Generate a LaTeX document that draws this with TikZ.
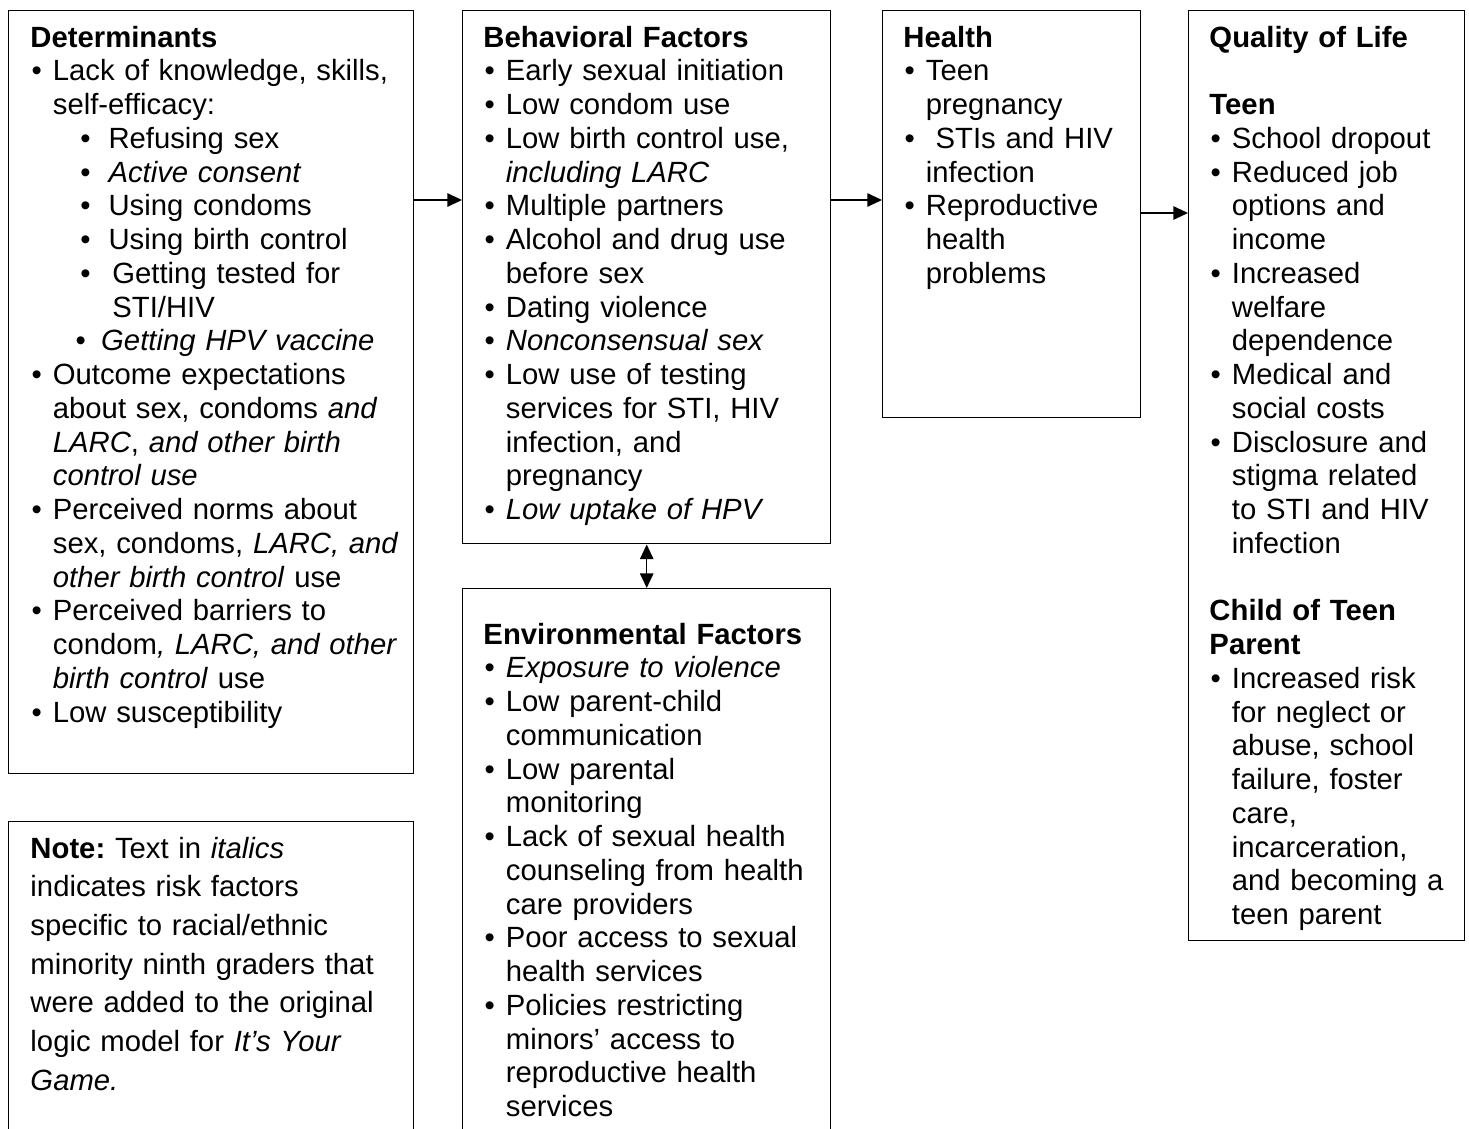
\documentclass[tikz,border=0pt]{standalone}
\usepackage{fontspec}
\setmainfont{Liberation Sans}
\usetikzlibrary{positioning,calc,arrows.meta}
\setlength{\parindent}{0pt}
\frenchspacing

\newcommand{\pxu}{0.41pt}
% bullet item and indented sub item
\newcommand{\itm}[1]{\par\hangindent=9.2pt\hangafter=1\noindent\hbox to 9.2pt{\hspace{0.5pt}\textbullet\hfil}#1\par}
\newcommand{\sitm}[3]{\par\hangindent=#2\hangafter=1\noindent\hbox to #2{\hspace{#1}\textbullet\hfil}#3\par}

\tikzset{
  frame/.style={draw, line width=0.6pt, anchor=north west, inner sep=0pt},
  txt/.style={anchor=base west, inner sep=0pt, align=left,
    font=\fontsize{12pt}{13.84pt}\selectfont},
  arr/.style={-{Triangle[length=6pt,width=5.5pt]}, line width=0.6pt},
  darr/.style={{Triangle[length=6pt,width=5.5pt]}-{Triangle[length=6pt,width=5.5pt]}, line width=0.6pt}
}

\begin{document}
\begin{tikzpicture}[x=\pxu, y=-\pxu]
\useasboundingbox (0,0) rectangle (1469,1128);
\clip (0,0) rectangle (1469,1128);

% boxes
\node[frame, minimum width=405*\pxu, minimum height=763*\pxu] (det) at (8,10) {};
\node[frame, minimum width=368*\pxu, minimum height=533*\pxu] (beh) at (462,10) {};
\node[frame, minimum width=258*\pxu, minimum height=407*\pxu] (hlth) at (882,10) {};
\node[frame, minimum width=276*\pxu, minimum height=930*\pxu] (qol) at (1188,10) {};
\node[frame, minimum width=368*\pxu, minimum height=560*\pxu] (env) at (462,588) {};
\node[frame, minimum width=405*\pxu, minimum height=330*\pxu] (note) at (8,821) {};

% texts
\node[txt, text width=154pt] (detText) at ($(det.north west)+(22,37)$) {%
\textbf{Determinants}
\itm{Lack of knowledge, skills,\newline self-efficacy:}
\sitm{20.5pt}{32pt}{Refusing sex}
\sitm{20.5pt}{32pt}{\textit{Active consent}}
\sitm{20.5pt}{32pt}{Using condoms}
\sitm{20.5pt}{32pt}{Using birth control}
\sitm{20.5pt}{33.6pt}{Getting tested for\newline STI/HIV}
\sitm{18.5pt}{29pt}{\textit{Getting HPV vaccine}}
\itm{Outcome expectations\newline about sex, condoms \textit{and}\newline \textit{LARC}, \textit{and other birth}\newline \textit{control use}}
\itm{Perceived norms about\newline sex, condoms, \textit{LARC, and}\newline \textit{other birth control} use}
\itm{Perceived barriers to\newline condom\textit{, LARC, and other}\newline \textit{birth control} use}
\itm{Low susceptibility}};

\node[txt, text width=138pt] (behText) at ($(beh.north west)+(21,37)$) {%
\textbf{Behavioral Factors}
\itm{Early sexual initiation}
\itm{Low condom use}
\itm{Low birth control use,\newline \textit{including LARC}}
\itm{Multiple partners}
\itm{Alcohol and drug use\newline before sex}
\itm{Dating violence}
\itm{\textit{Nonconsensual sex}}
\itm{Low use of testing\newline services for STI, HIV\newline infection, and\newline pregnancy}
\itm{\textit{Low uptake of HPV}}};

\node[txt, text width=94pt] (hlthText) at ($(hlth.north west)+(21,37)$) {%
\textbf{Health}
\itm{Teen\newline pregnancy}
\itm{\ STIs and HIV\newline infection}
\itm{Reproductive\newline health\newline problems}};

\node[txt, text width=101pt] (qolText) at ($(qol.north west)+(21,37)$) {%
\textbf{Quality of Life}\par\vspace{13.84pt}
\textbf{Teen}
\itm{School dropout}
\itm{Reduced job\newline options and\newline income}
\itm{Increased\newline welfare\newline dependence}
\itm{Medical and\newline social costs}
\itm{Disclosure and\newline stigma related\newline to STI and HIV\newline infection}
\vspace{13.84pt}
\textbf{Child of Teen\newline Parent}
\itm{Increased risk\newline for neglect or\newline abuse, school\newline failure, foster\newline care,\newline incarceration,\newline and becoming a\newline teen parent}};

\node[txt, text width=138pt] (envText) at ($(env.north west)+(21,56)$) {%
\textbf{Environmental Factors}
\itm{\textit{Exposure to violence}}
\itm{Low parent-child\newline communication}
\itm{Low parental\newline monitoring}
\itm{Lack of sexual health\newline counseling from health\newline care providers}
\itm{Poor access to sexual\newline health services}
\itm{Policies restricting\newline minors' access to\newline reproductive health\newline services}};

\node[txt, text width=154pt, font=\fontsize{12pt}{15.87pt}\selectfont] (noteText) at ($(note.north west)+(22,37)$) {%
\textbf{Note:} Text in \textit{italics}\newline indicates risk factors\newline specific to racial/ethnic\newline minority ninth graders that\newline were added to the original\newline logic model for \textit{It's Your}\newline \textit{Game.}};

% connectors
\draw[arr] ($(det.north east)+(0,190)$) -- ($(beh.north west)+(0,190)$);
\draw[arr] ($(beh.north east)+(0,190)$) -- ($(hlth.north west)+(0,190)$);
\draw[arr] ($(hlth.north east)+(0,203)$) -- ($(qol.north west)+(0,203)$);
\draw[darr] (beh.south) -- (env.north);

\end{tikzpicture}
\end{document}
